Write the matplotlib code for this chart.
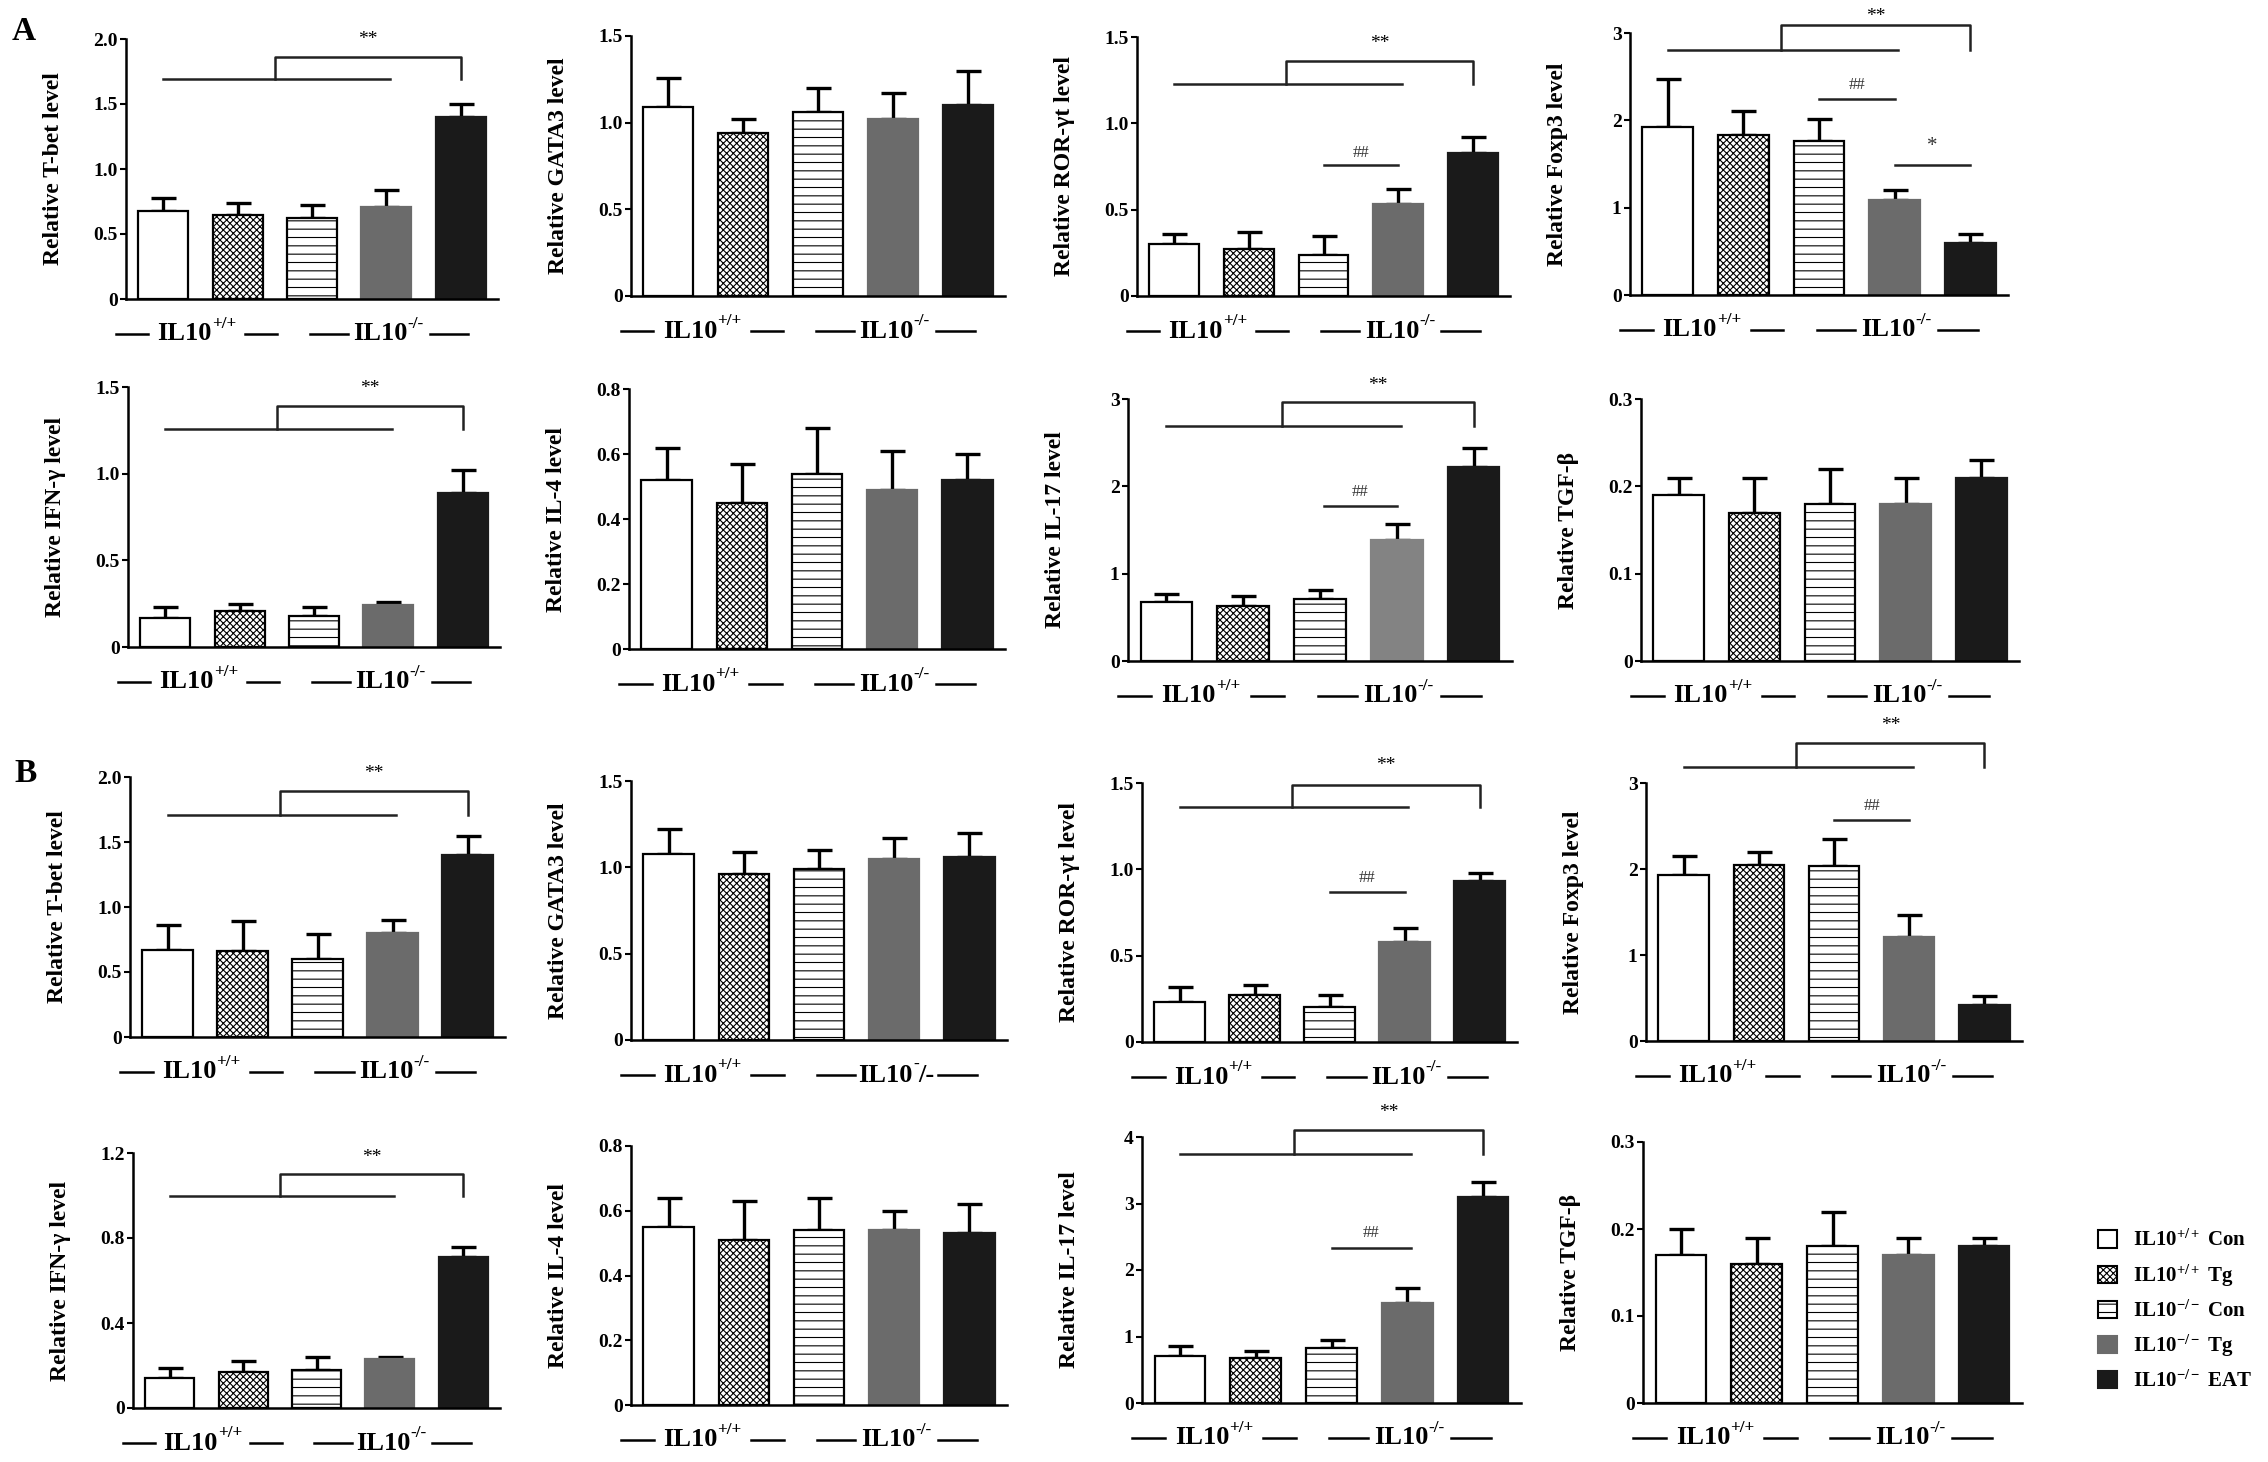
import matplotlib
matplotlib.use("Agg")
import matplotlib.pyplot as plt
import matplotlib.transforms as mtransforms
from matplotlib.patches import Patch

plt.rcParams["font.family"] = ["Liberation Serif", "DejaVu Serif"]
plt.rcParams["font.weight"] = "bold"
plt.rcParams["mathtext.fontset"] = "custom"
plt.rcParams["mathtext.rm"] = "Liberation Serif:bold"
plt.rcParams["mathtext.bf"] = "Liberation Serif:bold"
plt.rcParams["mathtext.it"] = "Liberation Serif:bold"
plt.rcParams["hatch.linewidth"] = 0.8

# ---- data ----
legend_labels = [r"IL10$^{+/+}$ Con", r"IL10$^{+/+}$ Tg", r"IL10$^{-/-}$ Con",
                 r"IL10$^{-/-}$ Tg", r"IL10$^{-/-}$ EAT"]
# group label pieces: (main, superscript, tail)
group1 = ("IL10", "+/+", "")
group2 = ("IL10", "-/-", "")
group2_alt = ("IL10", "-", "/-")

# panel A
a_tbet_mean = [0.68, 0.65, 0.62, 0.71, 1.40]
a_tbet_err = [0.10, 0.09, 0.10, 0.13, 0.10]
a_gata3_mean = [1.09, 0.94, 1.06, 1.02, 1.10]
a_gata3_err = [0.17, 0.08, 0.14, 0.15, 0.20]
a_ror_mean = [0.30, 0.27, 0.24, 0.53, 0.83]
a_ror_err = [0.06, 0.10, 0.11, 0.09, 0.09]
a_foxp3_mean = [1.92, 1.83, 1.76, 1.09, 0.59]
a_foxp3_err = [0.55, 0.28, 0.25, 0.11, 0.11]
a_ifng_mean = [0.17, 0.21, 0.18, 0.24, 0.89]
a_ifng_err = [0.06, 0.04, 0.05, 0.02, 0.13]
a_il4_mean = [0.52, 0.45, 0.54, 0.49, 0.52]
a_il4_err = [0.10, 0.12, 0.14, 0.12, 0.08]
a_il17_mean = [0.67, 0.63, 0.71, 1.38, 2.22]
a_il17_err = [0.10, 0.11, 0.10, 0.19, 0.22]
a_tgfb_mean = [0.19, 0.17, 0.18, 0.18, 0.21]
a_tgfb_err = [0.02, 0.04, 0.04, 0.03, 0.02]

# panel B
b_tbet_mean = [0.67, 0.66, 0.60, 0.80, 1.40]
b_tbet_err = [0.19, 0.23, 0.19, 0.10, 0.15]
b_gata3_mean = [1.08, 0.96, 0.99, 1.05, 1.06]
b_gata3_err = [0.14, 0.13, 0.11, 0.12, 0.14]
b_ror_mean = [0.23, 0.27, 0.20, 0.58, 0.93]
b_ror_err = [0.09, 0.06, 0.07, 0.08, 0.05]
b_foxp3_mean = [1.93, 2.05, 2.04, 1.21, 0.42]
b_foxp3_err = [0.22, 0.15, 0.31, 0.26, 0.10]
b_ifng_mean = [0.14, 0.17, 0.18, 0.23, 0.71]
b_ifng_err = [0.05, 0.05, 0.06, 0.01, 0.05]
b_il4_mean = [0.55, 0.51, 0.54, 0.54, 0.53]
b_il4_err = [0.09, 0.12, 0.10, 0.06, 0.09]
b_il17_mean = [0.71, 0.68, 0.82, 1.51, 3.10]
b_il17_err = [0.14, 0.10, 0.12, 0.22, 0.22]
b_tgfb_mean = [0.17, 0.16, 0.18, 0.17, 0.18]
b_tgfb_err = [0.03, 0.03, 0.04, 0.02, 0.01]

ticks_2 = [0, 0.5, 1.0, 1.5, 2.0]
ticklabels_2 = ["0", "0.5", "1.0", "1.5", "2.0"]
ticks_15 = [0, 0.5, 1.0, 1.5]
ticklabels_15 = ["0", "0.5", "1.0", "1.5"]
ticks_3 = [0, 1, 2, 3]
ticklabels_3 = ["0", "1", "2", "3"]
ticks_4 = [0, 1, 2, 3, 4]
ticklabels_4 = ["0", "1", "2", "3", "4"]
ticks_08 = [0, 0.2, 0.4, 0.6, 0.8]
ticklabels_08 = ["0", "0.2", "0.4", "0.6", "0.8"]
ticks_03 = [0, 0.1, 0.2, 0.3]
ticklabels_03 = ["0", "0.1", "0.2", "0.3"]
ticks_12 = [0, 0.4, 0.8, 1.2]
ticklabels_12 = ["0", "0.4", "0.8", "1.2"]

# significance levels: (bar line, bracket top, stars), extra lines (x0, x1, y, ytext, text)
a_tbet_sig = (1.69, 1.86, 2.0)
a_ror_sig = (1.23, 1.36, 1.46)
a_ror_extra = [(2, 3, 0.76, 0.83, "##")]
a_foxp3_sig = (2.80, 3.09, 3.19)
a_foxp3_extra = [(2, 3, 2.24, 2.40, "##"), (3, 4, 1.49, 1.70, "*")]
a_ifng_sig = (1.255, 1.39, 1.49)
a_il17_sig = (2.69, 2.96, 3.16)
a_il17_extra = [(2.05, 3, 1.77, 1.93, "##")]
b_tbet_sig = (1.71, 1.89, 2.03)
b_ror_sig = (1.36, 1.49, 1.60)
b_ror_extra = [(2, 3, 0.87, 0.95, "##")]
b_foxp3_sig = (3.19, 3.46, 3.67)
b_foxp3_extra = [(2, 3, 2.57, 2.73, "##")]
b_ifng_sig = (1.0, 1.10, 1.18)
b_il17_sig = (3.75, 4.10, 4.37)
b_il17_extra = [(2, 3.05, 2.33, 2.55, "##")]

# ---- styles ----
face = ["white", "white", "white", "#6b6b6b", "#1a1a1a"]
edge = ["black", "black", "black", "#6b6b6b", "#1a1a1a"]
hatch = [None, "xxxxx", "--", None, None]

W, H = 2268, 1462
fig = plt.figure(figsize=(W / 100, H / 100), dpi=100)


def group_label(ax, tr, xc, yy, parts, size=19):
    main, sup, tail = parts
    ssize = size * 0.65
    w_main = 2.06 * size
    w_sup = len(sup) * 0.33 * ssize if "-" in sup else 1.42 * ssize
    w_tail = 0.6 * size if tail else 0
    left = -(w_main + w_sup + w_tail) / 2
    t_main = mtransforms.offset_copy(tr, fig=fig, x=left, y=0, units="points")
    ax.text(xc, yy, main, transform=t_main, ha="left", va="center",
            fontsize=size, fontweight="bold")
    t_sup = mtransforms.offset_copy(tr, fig=fig, x=left + w_main, y=7, units="points")
    ax.text(xc, yy, sup, transform=t_sup, ha="left", va="center",
            fontsize=ssize, fontweight="bold")
    if tail:
        t_tail = mtransforms.offset_copy(tr, fig=fig, x=left + w_main + w_sup, y=0,
                                         units="points")
        ax.text(xc, yy, tail, transform=t_tail, ha="left", va="center",
                fontsize=size, fontweight="bold")


def draw_panel(box, mean, err, ylim, ticks, ticklabels, ylabel,
               sig=None, extra=(), gl2=group2, colors=None):
    x0, x1, top, bot = box
    ax = fig.add_axes([x0 / W, 1 - bot / H, (x1 - x0) / W, (bot - top) / H])
    fc = list(face)
    ec = list(edge)
    if colors:
        for i, c in colors.items():
            fc[i] = c
            ec[i] = c
    xs = range(len(mean))
    ax.errorbar(xs, mean, yerr=[[0] * len(err), err], fmt="none", ecolor="black",
                elinewidth=2.4, capsize=9, capthick=2.4, zorder=1)
    for i in xs:
        ax.bar(i, mean[i], width=0.67, color=fc[i], edgecolor=ec[i],
               hatch=hatch[i], linewidth=1.6, zorder=2)
    ax.set_xlim(-0.5, 4.5)
    ax.set_ylim(*ylim)
    ax.set_yticks(ticks)
    ax.set_yticklabels(ticklabels)
    ax.set_xticks([])
    for s in ["top", "right"]:
        ax.spines[s].set_visible(False)
    for s in ["left", "bottom"]:
        ax.spines[s].set_linewidth(1.8)
    ax.tick_params(axis="y", length=4, width=1.5, labelsize=14, pad=2)
    ax.set_ylabel(ylabel, fontsize=17, fontweight="bold")
    ax.yaxis.set_label_coords(-62 / (x1 - x0), 0.5)

    # group labels below the axis
    tr = mtransforms.blended_transform_factory(ax.transData, ax.transAxes)
    yy = -35 / (bot - top)
    for a, b in [(-0.63, -0.2), (1.1, 1.53), (1.97, 2.48), (3.58, 4.1)]:
        ax.plot([a, b], [yy, yy], color="black", lw=1.8, transform=tr, clip_on=False)
    group_label(ax, tr, 0.45, yy, group1)
    group_label(ax, tr, 3.03, yy, gl2)

    if sig:
        y1, y2, y3 = sig
        ax.plot([0, 3.05], [y1, y1], color="#222222", lw=1.8, clip_on=False)
        ax.plot([1.5, 1.5, 4.0, 4.0], [y1, y2, y2, y1], color="#222222", lw=1.8,
                clip_on=False)
        ax.text(2.75, y3, "**", ha="center", va="center", fontsize=14,
                fontweight="normal", clip_on=False)
    for a, b, yl, yt, t in extra:
        ax.plot([a, b], [yl, yl], color="#222222", lw=1.8, clip_on=False)
        ax.text((a + b) / 2, yt, t, ha="center", va="center",
                fontsize=12 if t == "##" else 15, fontweight="normal", color="#333333")
    return ax


# row A1
draw_panel((126, 498, 39, 299), a_tbet_mean, a_tbet_err, (0, 2.0), ticks_2, ticklabels_2,
           "Relative T-bet level", sig=a_tbet_sig)
draw_panel((631, 1005, 36, 296), a_gata3_mean, a_gata3_err, (0, 1.5), ticks_15, ticklabels_15,
           "Relative GATA3 level")
draw_panel((1137, 1510, 37, 296), a_ror_mean, a_ror_err, (0, 1.5), ticks_15, ticklabels_15,
           "Relative ROR-γt level", sig=a_ror_sig, extra=a_ror_extra)
draw_panel((1630, 2008, 33, 295), a_foxp3_mean, a_foxp3_err, (0, 3), ticks_3, ticklabels_3,
           "Relative Foxp3 level", sig=a_foxp3_sig, extra=a_foxp3_extra)
# row A2
draw_panel((128, 500, 387, 647), a_ifng_mean, a_ifng_err, (0, 1.5), ticks_15, ticklabels_15,
           "Relative IFN-γ level", sig=a_ifng_sig)
draw_panel((629, 1005, 389, 649), a_il4_mean, a_il4_err, (0, 0.8), ticks_08, ticklabels_08,
           "Relative IL-4 level")
draw_panel((1128, 1512, 399, 661), a_il17_mean, a_il17_err, (0, 3), ticks_3, ticklabels_3,
           "Relative IL-17 level", sig=a_il17_sig, extra=a_il17_extra,
           colors={3: "#838383"})
draw_panel((1641, 2019, 399, 661), a_tgfb_mean, a_tgfb_err, (0, 0.3), ticks_03, ticklabels_03,
           "Relative TGF-β")
# row B1
draw_panel((130, 505, 777, 1037), b_tbet_mean, b_tbet_err, (0, 2.0), ticks_2, ticklabels_2,
           "Relative T-bet level", sig=b_tbet_sig)
draw_panel((631, 1007, 781, 1040), b_gata3_mean, b_gata3_err, (0, 1.5), ticks_15, ticklabels_15,
           "Relative GATA3 level", gl2=group2_alt)
draw_panel((1142, 1517, 783, 1042), b_ror_mean, b_ror_err, (0, 1.5), ticks_15, ticklabels_15,
           "Relative ROR-γt level", sig=b_ror_sig, extra=b_ror_extra)
draw_panel((1646, 2022, 783, 1041), b_foxp3_mean, b_foxp3_err, (0, 3), ticks_3, ticklabels_3,
           "Relative Foxp3 level", sig=b_foxp3_sig, extra=b_foxp3_extra)
# row B2
draw_panel((133, 500, 1153, 1408), b_ifng_mean, b_ifng_err, (0, 1.2), ticks_12, ticklabels_12,
           "Relative IFN-γ level", sig=b_ifng_sig)
draw_panel((631, 1007, 1146, 1405), b_il4_mean, b_il4_err, (0, 0.8), ticks_08, ticklabels_08,
           "Relative IL-4 level")
draw_panel((1142, 1521, 1137, 1403), b_il17_mean, b_il17_err, (0, 4), ticks_4, ticklabels_4,
           "Relative IL-17 level", sig=b_il17_sig, extra=b_il17_extra)
draw_panel((1643, 2022, 1142, 1403), b_tgfb_mean, b_tgfb_err, (0, 0.3), ticks_03, ticklabels_03,
           "Relative TGF-β")

# panel letters
fig.text(12 / W, 1 - 32 / H, "A", fontsize=24, fontweight="bold", va="center")
fig.text(14 / W, 1 - 774 / H, "B", fontsize=24, fontweight="bold", va="center")

# legend
handles = [Patch(facecolor=face[i], edgecolor="black" if i < 3 else face[i],
                 hatch=hatch[i], linewidth=1.5) for i in range(5)]
fig.legend(handles, legend_labels, loc="upper left",
           bbox_to_anchor=(2098 / W, 1 - 1230 / H), frameon=False, fontsize=15,
           handlelength=0.9, handleheight=0.9, handletextpad=0.8, labelspacing=0.55,
           borderpad=0, borderaxespad=0)

fig.savefig("out.png", dpi=100)
